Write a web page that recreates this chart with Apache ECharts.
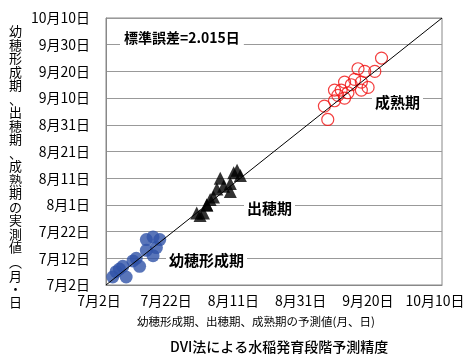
<!DOCTYPE html>
<html>
<head>
<meta charset="utf-8">
<script src="https://cdn.jsdelivr.net/npm/echarts@6/dist/echarts.min.js"></script>
<style>
  html, body { margin: 0; padding: 0; background: #fff; }
  #chart { width: 475px; height: 360px; }
</style>
</head>
<body>
<div id="chart"></div>
<script>
// Predicted vs observed dates (month/day) for three rice growth stages
const paniclePred  = ['7/4', '7/5', '7/6', '7/7', '7/8', '7/10', '7/11', '7/12', '7/14', '7/14', '7/16', '7/16', '7/17', '7/18'];
const panicleObs   = ['7/5', '7/7', '7/8', '7/9', '7/5', '7/11', '7/12', '7/9', '7/19', '7/15', '7/20', '7/13', '7/16', '7/19'];

const headingPred  = ['7/29', '7/30', '7/31', '8/1', '8/1', '8/2', '8/3', '8/4', '8/5', '8/6', '8/8', '8/8', '8/9', '8/10', '8/11'];
const headingObs   = ['7/29', '7/28', '7/29', '8/1', '8/1', '8/3', '8/4', '8/7', '8/11', '8/8', '8/9', '8/6', '8/13', '8/14', '8/12'];

const maturityPred = ['9/22', '9/20', '9/17', '9/15', '9/16', '9/18', '9/11', '9/13', '9/10', '9/8', '9/12', '9/9', '9/11', '9/16', '9/5', '9/6', '9/8', '9/14'];
const maturityObs  = ['9/25', '9/20', '9/20', '9/21', '9/16', '9/14', '9/16', '9/15', '9/13', '9/13', '9/12', '9/11', '9/10', '9/13', '9/7', '9/2', '9/9', '9/17'];

// 1:1 reference line (start and end date)
const diagonal = ['7/2', '10/10'];

// Axis tick labels
const yTicks = ['7月2日', '7月12日', '7月22日', '8月1日', '8月11日', '8月21日', '8月31日', '9月10日', '9月20日', '9月30日', '10月10日'];
const xTicks = ['7月2日', '7月22日', '8月11日', '8月31日', '9月20日', '10月10日'];

const stageNames = ['幼穂形成期', '出穂期', '成熟期'];
const errorText = '標準誤差=2.015日';
const yTitle = '幼穂形成期、出穂期、成熟期の実測値';
const yUnit = ['︵', '月', '・', '日'];
const xTitle = '幼穂形成期、出穂期、成熟期の予測値(月、日)';
const mainTitle = 'DVI法による水稲発育段階予測精度';

// Convert "M/D" into days counted from 7/2
const ORIGIN = Date.UTC(2023, 6, 2);
function toDay(md) {
  const [m, d] = md.split('/').map(Number);
  return Math.round((Date.UTC(2023, m - 1, d) - ORIGIN) / 86400000);
}
function pairs(xs, ys) {
  return xs.map((x, i) => [toDay(x), toDay(ys[i])]);
}

const FONT = '"Noto Sans CJK JP", sans-serif';
const chart = echarts.init(document.getElementById('chart'), null, { renderer: 'canvas' });

// Vertical axis title: one glyph per row
const yTitleEls = [];
yTitle.split('').forEach((c, i) => {
  yTitleEls.push({ type: 'text', left: 9, top: 25 + i * 13.5,
    style: { text: c, font: '13px ' + FONT, fill: '#000' } });
});
const unitTop = [256, 270, 283, 296];
yUnit.forEach((c, i) => {
  yTitleEls.push({ type: 'text', left: 9, top: unitTop[i],
    style: { text: c, font: '13px ' + FONT, fill: '#000' } });
});

chart.setOption({
  animation: false,
  backgroundColor: '#fff',
  grid: { left: 106, top: 18, width: 336, height: 267, show: true, borderColor: '#888', borderWidth: 1 },
  xAxis: {
    type: 'value', min: 0, max: 100, interval: 20,
    axisLine: { show: true, lineStyle: { color: '#888' } },
    axisTick: { show: false },
    splitLine: { show: false },
    axisLabel: {
      color: '#000', fontSize: 14, fontFamily: FONT, margin: 9,
      padding: [0, 14, 0, 0],
      formatter: v => xTicks[Math.round(v / 20)]
    }
  },
  yAxis: {
    type: 'value', min: 0, max: 100, interval: 10,
    axisLine: { show: true, lineStyle: { color: '#888' } },
    axisTick: { show: false },
    splitLine: { show: true, lineStyle: { color: '#999', width: 1 } },
    axisLabel: {
      color: '#000', fontSize: 14, fontFamily: FONT, margin: 16,
      formatter: v => yTicks[Math.round(v / 10)]
    }
  },
  series: [
    {
      type: 'line', data: pairs([diagonal[0], diagonal[1]], [diagonal[0], diagonal[1]]),
      showSymbol: false, lineStyle: { color: '#000', width: 1 }, z: 5, silent: true
    },
    {
      name: stageNames[0], type: 'scatter', data: pairs(paniclePred, panicleObs),
      symbol: 'circle', symbolSize: 13, itemStyle: { color: '#3052A8' }, z: 3
    },
    {
      name: stageNames[1], type: 'scatter', data: pairs(headingPred, headingObs),
      symbol: 'triangle', symbolSize: 13, itemStyle: { color: '#000' }, z: 3
    },
    {
      name: stageNames[2], type: 'scatter', data: pairs(maturityPred, maturityObs),
      symbol: 'circle', symbolSize: 12,
      itemStyle: { color: 'rgba(255,255,255,0)', borderColor: '#F01010', borderWidth: 1.2 }, z: 3
    }
  ],
  graphic: [
    { type: 'text', left: 120, top: 31, z: 10,
      style: { text: errorText, font: 'bold 14px ' + FONT, fill: '#000', backgroundColor: '#fff', padding: [0, 4] } },
    { type: 'text', left: 372, top: 95, z: 10,
      style: { text: stageNames[2], font: 'bold 15px ' + FONT, fill: '#000', backgroundColor: '#fff', padding: [0, 3] } },
    { type: 'text', left: 244, top: 201, z: 10,
      style: { text: stageNames[1], font: 'bold 15px ' + FONT, fill: '#000', backgroundColor: '#fff', padding: [0, 3] } },
    { type: 'text', left: 166, top: 253, z: 10,
      style: { text: stageNames[0], font: 'bold 15px ' + FONT, fill: '#000', backgroundColor: '#fff', padding: [0, 3] } },
    { type: 'text', left: 137, top: 316, z: 10,
      style: { text: xTitle, font: '11.5px ' + FONT, fill: '#000' } },
    { type: 'text', top: 340, left: 170, z: 10,
      style: { text: mainTitle, font: '500 14px ' + FONT, fill: '#000' } },
    ...yTitleEls
  ]
});
</script>
</body>
</html>
